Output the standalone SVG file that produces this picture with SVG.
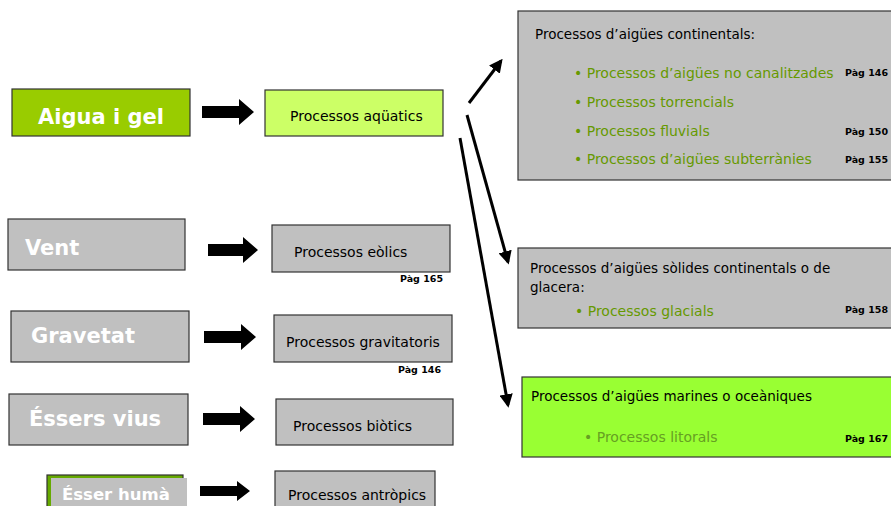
<svg xmlns="http://www.w3.org/2000/svg" width="891" height="506" viewBox="0 0 891 506">
<defs>
<style>
.box{stroke:#333;stroke-width:1.2}
.gray{fill:#c0c0c0}
.big{font-family:"DejaVu Sans",Verdana,sans-serif;font-weight:bold;font-size:21px;fill:#fff}
.t{font-family:"DejaVu Sans",Verdana,sans-serif;font-size:14px;fill:#000}
.ti{font-family:"DejaVu Sans",Verdana,sans-serif;font-size:13.5px;fill:#000}
.b{font-family:"DejaVu Sans",Verdana,sans-serif;font-size:14px;fill:#669900}
.pg{font-family:"DejaVu Sans",Verdana,sans-serif;font-weight:bold;font-size:9.5px;fill:#000}
.ln{stroke:#000;stroke-width:3;fill:none;marker-end:url(#ah)}
</style>
<marker id="ah" viewBox="0 0 10 10" refX="8" refY="5" markerWidth="4.5" markerHeight="4.5" orient="auto" markerUnits="strokeWidth">
<path d="M0,0 L10,5 L0,10 z" fill="#000"/>
</marker>
</defs>
<rect width="891" height="506" fill="#fff"/>

<g id="aigua"><rect class="box" x="12" y="89" width="178" height="47" fill="#99cc00"/><text class="big" x="101" y="124" text-anchor="middle">Aigua i gel</text></g>
<g id="aquatics"><rect class="box" x="265" y="90" width="178" height="46" fill="#ccff66"/><text class="t" x="290" y="121">Processos aqüatics</text></g>

<g id="vent"><rect class="box gray" x="8" y="219" width="177" height="51"/><text class="big" x="25" y="255">Vent</text></g>
<g id="eolics"><rect class="box gray" x="272" y="225" width="178" height="47"/><text class="t" x="294" y="257">Processos eòlics</text><text class="pg" x="400" y="282">Pàg 165</text></g>

<g id="gravetat"><rect class="box gray" x="11" y="311" width="178" height="51"/><text class="big" x="31" y="343">Gravetat</text></g>
<g id="gravitatoris"><rect class="box gray" x="274" y="315" width="178" height="47"/><text class="t" x="286" y="347">Processos gravitatoris</text><text class="pg" x="398" y="373">Pàg 146</text></g>

<g id="essers"><rect class="box gray" x="9" y="394" width="179" height="51"/><text class="big" x="29" y="426">Éssers vius</text></g>
<g id="biotics"><rect class="box gray" x="276" y="399" width="177" height="46"/><text class="t" x="293" y="431">Processos biòtics</text></g>

<g id="huma"><rect class="box" x="47" y="475" width="136" height="40" fill="#66aa00"/><rect x="51" y="478" width="136" height="30" fill="#c0c0c0"/><text class="big" x="62" y="500" style="font-size:16.5px">Ésser humà</text></g>
<g id="antropics"><rect class="box gray" x="275" y="471" width="160" height="44"/><text class="t" x="288" y="500">Processos antròpics</text></g>

<g id="continental"><rect class="box gray" x="518" y="11" width="385" height="169"/>
<text class="ti" x="535" y="39">Processos d’aigües continentals:</text>
<text class="b" x="574" y="78">• Processos d’aigües no canalitzades</text>
<text class="b" x="574" y="107">• Processos torrencials</text>
<text class="b" x="574" y="136">• Processos fluvials</text>
<text class="b" x="574" y="164">• Processos d’aigües subterrànies</text>
<text class="pg" x="845" y="76">Pàg 146</text>
<text class="pg" x="845" y="135">Pàg 150</text>
<text class="pg" x="845" y="163">Pàg 155</text>
</g>
<g id="solides"><rect class="box gray" x="518" y="248" width="385" height="80"/>
<text class="ti" x="530" y="273">Processos d’aigües sòlides continentals o de</text>
<text class="ti" x="530" y="292">glacera:</text>
<text class="b" x="575" y="316">• Processos glacials</text>
<text class="pg" x="845" y="313">Pàg 158</text>
</g>
<g id="marines"><rect class="box" x="522" y="377" width="385" height="80" fill="#99ff33"/>
<text class="ti" x="531" y="401">Processos d’aigües marines o oceàniques</text>
<text class="b" x="584" y="442" style="fill:#66a022">• Processos litorals</text>
<text class="pg" x="845" y="442">Pàg 167</text>
</g>

<g id="connectors">
<path d="M202,106 H239 V99 L254,112 L239,125 V118 H202 Z" fill="#000"/>
<path d="M208,244 H243 V237 L258,250 L243,263 V256 H208 Z" fill="#000"/>
<path d="M204,331 H241 V324 L256,337 L241,350 V343 H204 Z" fill="#000"/>
<path d="M203,413 H240 V406 L255,419 L240,432 V425 H203 Z" fill="#000"/>
<path d="M200,486 H237 V481 L250,491 L237,501 V496 H200 Z" fill="#000"/>
<line class="ln" x1="469" y1="103" x2="501" y2="61"/>
<line class="ln" x1="467" y1="115" x2="508" y2="262"/>
<line class="ln" x1="460" y1="138" x2="508" y2="405"/>
</g>
</svg>
